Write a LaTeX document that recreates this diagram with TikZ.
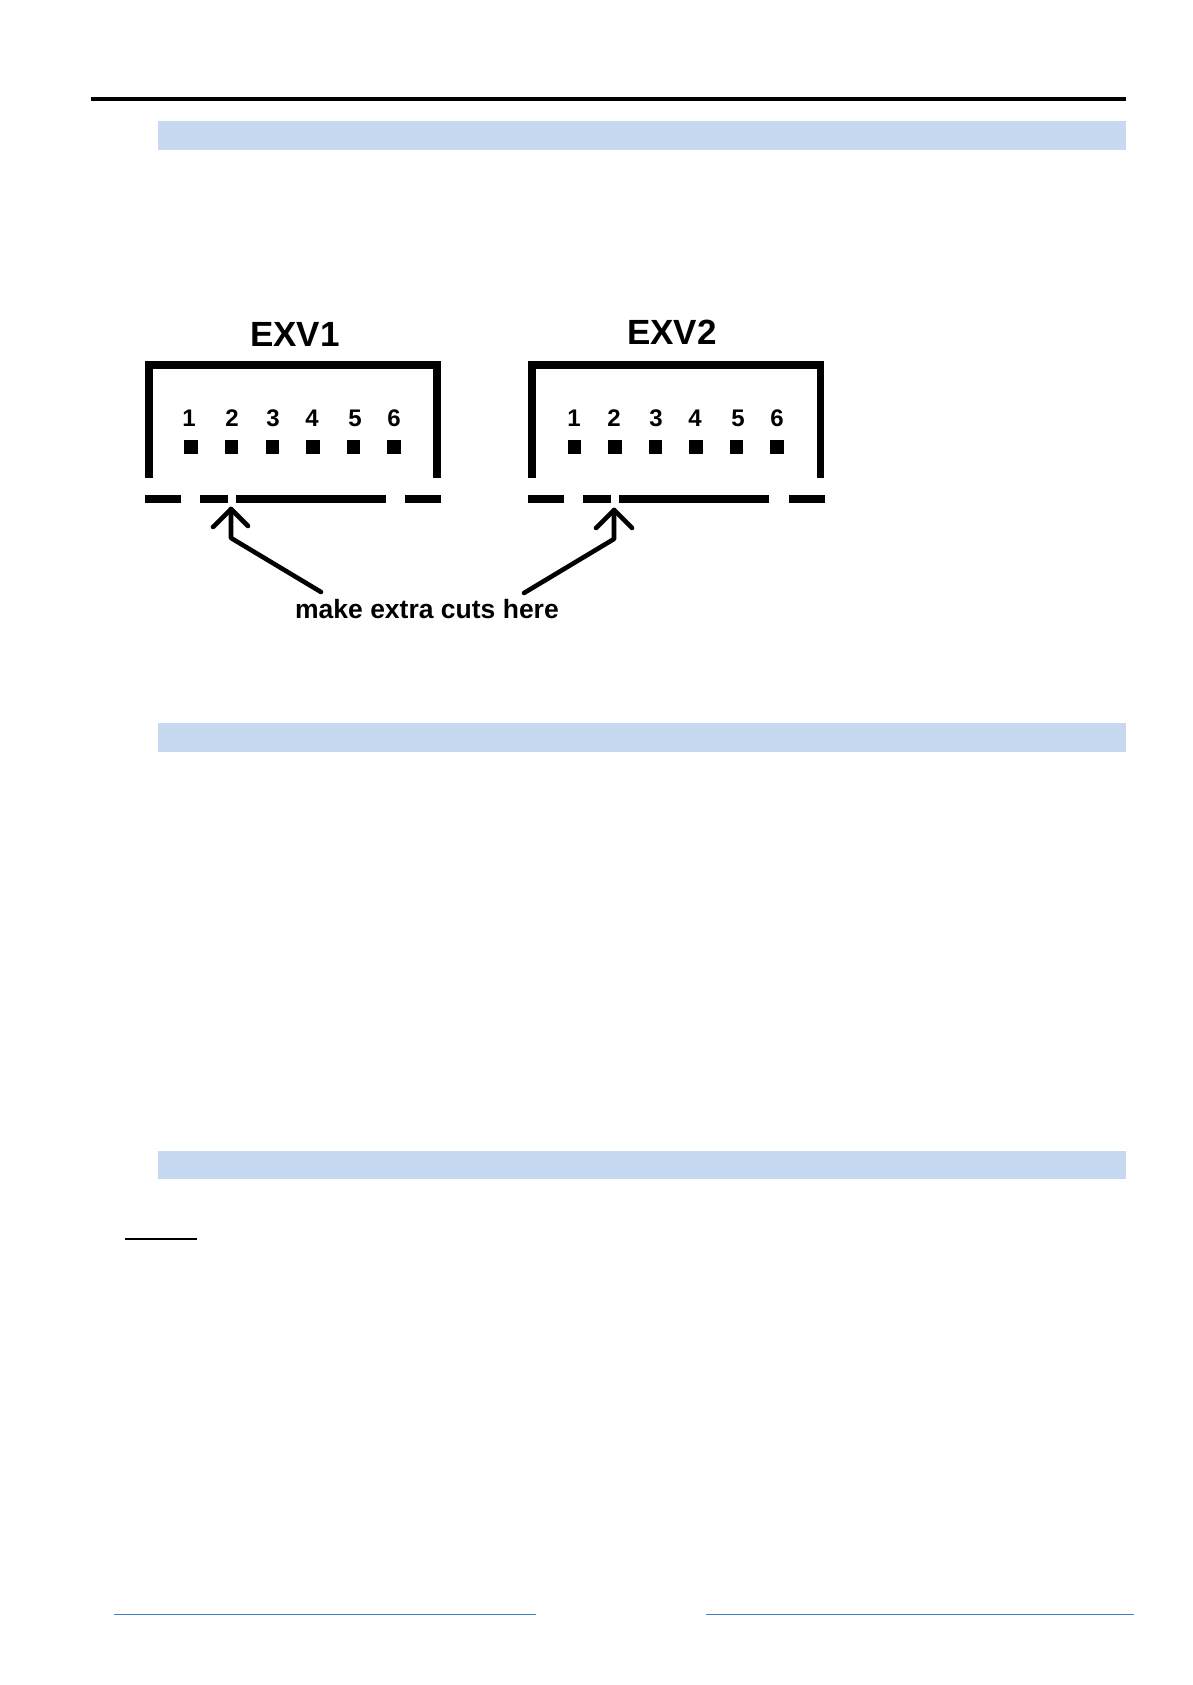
\documentclass[tikz,border=0pt]{standalone}
\usepackage{fontspec}
\setmainfont{Liberation Sans}
\definecolor{bandblue}{HTML}{C6D9F1}
\definecolor{footblue}{HTML}{3F7FBF}
\tikzset{
  band/.style={fill=bandblue,draw=none},
  frameline/.style={draw=black,line width=7.5pt,miter limit=10},
  cutline/.style={draw=black,line width=7.5pt},
  pointer/.style={draw=black,line width=4.6pt,line join=round,line cap=round},
  pin/.style={fill=black,draw=none,inner sep=0pt,minimum width=13.5pt,minimum height=14pt},
  pinlabel/.style={font=\fontsize{24}{24}\selectfont\bfseries,inner sep=0pt,text height=17pt,text depth=0pt},
  title/.style={font=\fontsize{35}{35}\selectfont\bfseries,inner sep=0pt,text height=25pt,text depth=0pt},
  note/.style={font=\fontsize{26.5}{26.5}\selectfont\bfseries,inner sep=0pt},
  footline/.style={draw=footblue,line width=1.7pt}
}
\begin{document}
\begin{tikzpicture}[x=1pt,y=-1pt]
\useasboundingbox (0,0) rectangle (1192,1685);
% page furniture
\draw[draw=black,line width=3.4pt] (91,99) -- (1126,99);
\fill[band] (158,121) rectangle (1126,150);
\fill[band] (158,722.5) rectangle (1126,751.5);
\fill[band] (158,1151) rectangle (1126,1179);
\draw[draw=black,line width=2.4pt] (125,1238.7) -- (197,1238.7);
\draw[footline] (114,1614.4) -- (535.5,1614.4);
\draw[footline] (706,1614.4) -- (1134,1614.4);
% titles
\node[title] (t1) at (295,334) {EXV1};
\node[title] (t2) at (672,332) {EXV2};
% frames
\draw[frameline] (149,478) -- (149,365) -- (437,365) -- (437,478);
\draw[frameline] (532,478) -- (532,365) -- (820.5,365) -- (820.5,478);
% bottom cut lines
\draw[cutline] (145,499) -- (181,499);
\draw[cutline] (200,499) -- (228,499);
\draw[cutline] (236,499) -- (386,499);
\draw[cutline] (405,499) -- (441,499);
\draw[cutline] (528,499) -- (564,499);
\draw[cutline] (583,499) -- (611,499);
\draw[cutline] (619,499) -- (769,499);
\draw[cutline] (789,499) -- (824.5,499);
% EXV1 pins
\node[pinlabel] (a1) at (189,418) {1};
\node[pinlabel] (a2) at (232,418) {2};
\node[pinlabel] (a3) at (273,418) {3};
\node[pinlabel] (a4) at (312,418) {4};
\node[pinlabel] (a5) at (355,418) {5};
\node[pinlabel] (a6) at (394,418) {6};
\node[pin] (p1) at (191,447) {};
\node[pin] (p2) at (231.5,447) {};
\node[pin] (p3) at (272.5,447) {};
\node[pin] (p4) at (313,447) {};
\node[pin] (p5) at (353.5,447) {};
\node[pin] (p6) at (394,447) {};
% EXV2 pins
\node[pinlabel] (b1) at (574,417.5) {1};
\node[pinlabel] (b2) at (614,417.5) {2};
\node[pinlabel] (b3) at (656,417.5) {3};
\node[pinlabel] (b4) at (695,417.5) {4};
\node[pinlabel] (b5) at (738,417.5) {5};
\node[pinlabel] (b6) at (777,417.5) {6};
\node[pin] (q1) at (574.5,447) {};
\node[pin] (q2) at (615,447) {};
\node[pin] (q3) at (655.5,447) {};
\node[pin] (q4) at (696,447) {};
\node[pin] (q5) at (736.5,447) {};
\node[pin] (q6) at (777,447) {};
% note
\node[note] (n) at (427,609.5) {make extra cuts here};
% pointers
\coordinate (la) at (213,527);
\coordinate (lt) at (231,509);
\coordinate (lb) at (248,526);
\coordinate (le) at (231,538);
\coordinate (ls) at (321,592);
\coordinate (ra) at (596,528);
\coordinate (rt) at (614,510);
\coordinate (rb) at (632,528);
\coordinate (re) at (614,539);
\coordinate (rs) at (524,593);
\draw[pointer] (la) -- (lt) -- (lb);
\draw[pointer] (lt) -- (le) -- (ls);
\draw[pointer] (ra) -- (rt) -- (rb);
\draw[pointer] (rt) -- (re) -- (rs);
\end{tikzpicture}
\end{document}
